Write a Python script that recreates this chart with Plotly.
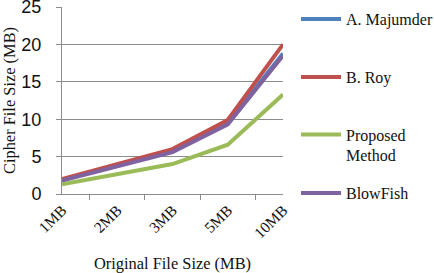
import plotly.graph_objects as go

categories = ["1MB", "2MB", "3MB", "5MB", "10MB"]
majumder = [1.9, 3.8, 5.8, 9.5, 18.8]
roy = [2.0, 4.0, 6.0, 9.9, 20.0]
proposed = [1.3, 2.7, 4.0, 6.6, 13.3]
blowfish = [1.8, 3.7, 5.6, 9.3, 18.5]
y_ticks = [0, 5, 10, 15, 20, 25]

series = [
    ("A. Majumder", majumder, "#4F81BD"),
    ("B. Roy", roy, "#C0504D"),
    ("Proposed<br>Method", proposed, "#9BBB59"),
    ("BlowFish", blowfish, "#7F63A1"),
]

W, H = 434, 273
L, R, T, B = 62, 151, 7, 79
pw, ph = W - L - R, H - T - B

def sx(x):
    return (x - L) / pw

def sy(y):
    return (H - B - y) / ph

serif = "Liberation Serif"
legend_centers = [19, 77, 145, 193]
legend_names = ["legend", "legend2", "legend3", "legend4"]

fig = go.Figure()
for i, (name, vals, col) in enumerate(series):
    fig.add_trace(go.Scatter(x=categories, y=vals, mode="lines", name=name,
                             legend=legend_names[i],
                             line=dict(color=col, width=4)))

leg_common = dict(xanchor="left", yanchor="middle", valign="top",
                  font=dict(family=serif, size=16, color="#111"),
                  itemwidth=40, bgcolor="rgba(0,0,0,0)", borderwidth=0)
layout_legends = {}
for i, ln in enumerate(legend_names):
    layout_legends[ln] = dict(x=sx(296), y=sy(legend_centers[i]), **leg_common)

fig.update_layout(
    width=W, height=H,
    margin=dict(l=L, r=R, t=T, b=B, autoexpand=False),
    paper_bgcolor="white", plot_bgcolor="white",
    showlegend=True,
    xaxis=dict(type="category", showline=True, linecolor="#8c8c8c", linewidth=1,
               ticks="outside", tickson="boundaries", ticklen=5, tickcolor="#8c8c8c",
               tickangle=-45, tickfont=dict(family=serif, size=15.5, color="#111"),
               showgrid=False, automargin=False,
               title=dict(text="Original File Size (MB)", font=dict(family=serif, size=16.4, color="#111"), standoff=20)),
    yaxis=dict(range=[0, 25.001], tickvals=y_ticks, showline=True,
               linecolor="#8c8c8c", linewidth=1, gridcolor="#8c8c8c", gridwidth=1,
               ticks="outside", ticklen=5, tickcolor="#8c8c8c",
               ticklabelstandoff=11,
               tickfont=dict(family="Liberation Sans", size=18, color="#111"),
               ticklabeloverflow="allow", zeroline=False, automargin=False,
               title=dict(text="Cipher File Size (MB)", font=dict(family=serif, size=16.4, color="#111"), standoff=2)),
    **layout_legends,
)
fig.write_html("out.html", config={"displayModeBar": False},
               post_script="document.body.style.margin='0';")
